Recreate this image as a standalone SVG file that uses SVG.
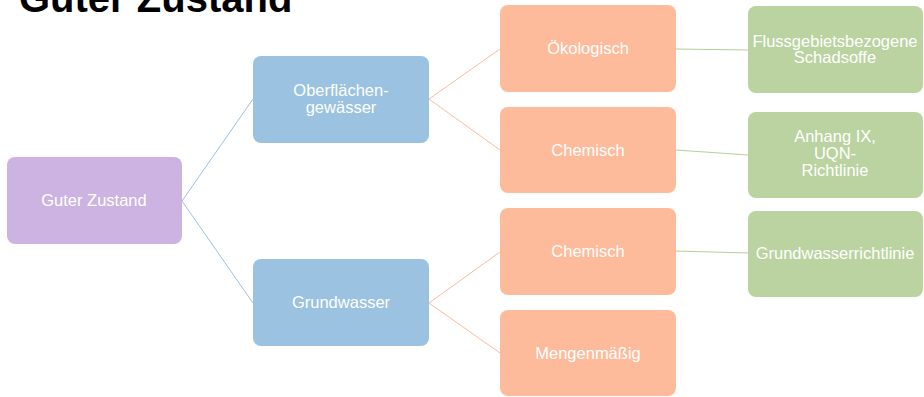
<svg xmlns="http://www.w3.org/2000/svg" width="924" height="397" viewBox="0 0 924 397">
<style>
.t{font-family:"Liberation Sans",Arial,sans-serif;font-size:16.5px;fill:#ffffff;text-anchor:middle}
.title{font-family:"Liberation Sans",Arial,sans-serif;font-size:40px;font-weight:bold;fill:#000}
.p{fill:#CCB3E1}.b{fill:#9BC2E0}.o{fill:#FEBB9B}.g{fill:#BBD3A0}
.lb{stroke:#9BC2E5;stroke-width:1;fill:none}
.lo{stroke:#FDBB9A;stroke-width:1;fill:none}
.lg{stroke:#B3D09B;stroke-width:1;fill:none}
</style>
<rect width="924" height="397" fill="#fff"/>
<text class="title" x="19" y="12">Guter Zustand</text>
<g id="connectors">
<line class="lb" x1="182" y1="201" x2="253" y2="99"/>
<line class="lb" x1="182" y1="201" x2="253" y2="303"/>
<line class="lo" x1="429" y1="99" x2="500" y2="49"/>
<line class="lo" x1="429" y1="99" x2="500" y2="150"/>
<line class="lo" x1="429" y1="303" x2="500" y2="252"/>
<line class="lo" x1="429" y1="303" x2="500" y2="353"/>
<line class="lg" x1="676" y1="49" x2="748" y2="50"/>
<line class="lg" x1="676" y1="150" x2="748" y2="155"/>
<line class="lg" x1="676" y1="251" x2="748" y2="253"/>
</g>
<g id="n-guter"><rect class="p" x="7" y="157" width="175" height="87" rx="8"/><text class="t" x="94" y="206">Guter Zustand</text></g>
<g id="n-ober"><rect class="b" x="253" y="56" width="176" height="87" rx="8"/><text class="t" x="341" y="96">Oberflächen-</text><text class="t" x="341" y="113">gewässer</text></g>
<g id="n-grund"><rect class="b" x="253" y="259" width="176" height="87" rx="8"/><text class="t" x="341" y="308">Grundwasser</text></g>
<g id="n-oeko"><rect class="o" x="500" y="5" width="176" height="87" rx="8"/><text class="t" x="588" y="54">Ökologisch</text></g>
<g id="n-chem1"><rect class="o" x="500" y="107" width="176" height="86" rx="8"/><text class="t" x="588" y="156">Chemisch</text></g>
<g id="n-chem2"><rect class="o" x="500" y="208" width="176" height="87" rx="8"/><text class="t" x="588" y="257">Chemisch</text></g>
<g id="n-menge"><rect class="o" x="500" y="310" width="176" height="86" rx="8"/><text class="t" x="588" y="359">Mengenmäßig</text></g>
<g id="n-fluss"><rect class="g" x="748" y="6" width="175" height="87" rx="8"/><text class="t" x="835" y="47">Flussgebietsbezogene</text><text class="t" x="835" y="63">Schadsoffe</text></g>
<g id="n-anhang"><rect class="g" x="748" y="112" width="175" height="86" rx="8"/><text class="t" x="835" y="142">Anhang IX,</text><text class="t" x="835" y="159">UQN-</text><text class="t" x="835" y="176">Richtlinie</text></g>
<g id="n-gwrl"><rect class="g" x="748" y="211" width="175" height="86" rx="8"/><text class="t" x="835" y="259">Grundwasserrichtlinie</text></g>
</svg>
